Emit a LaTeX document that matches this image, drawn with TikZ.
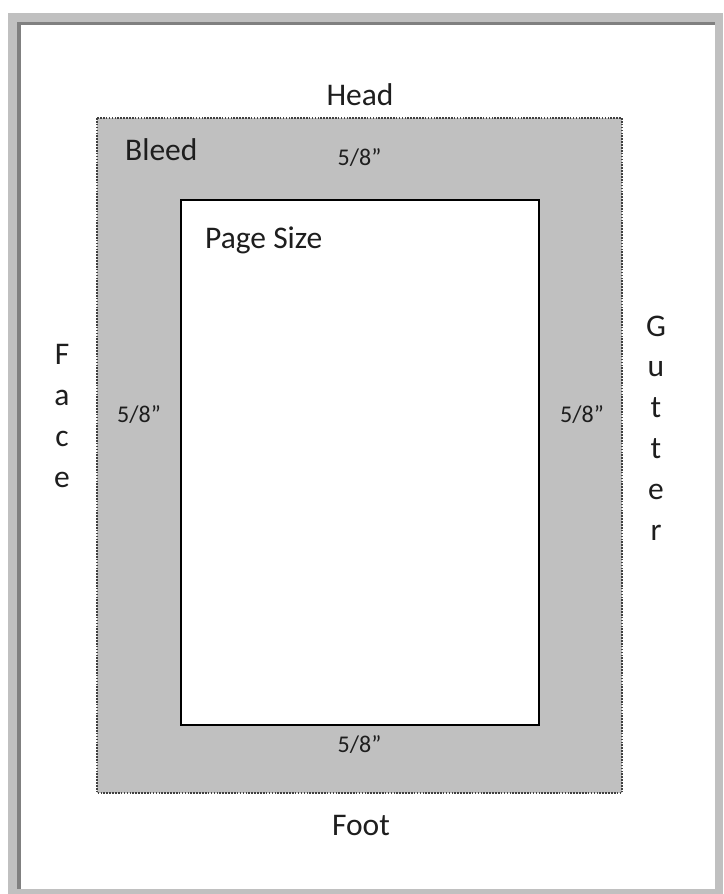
\documentclass[tikz,border=0pt]{standalone}
\usepackage{fontspec}
\setmainfont{Carlito}
\definecolor{framelight}{HTML}{C0C0C0}
\definecolor{framedark}{HTML}{808080}
\definecolor{bleedgray}{HTML}{C0C0C0}
\definecolor{dotgray}{HTML}{404040}
\definecolor{txt}{HTML}{1E1E1E}
\begin{document}
\begin{tikzpicture}[x=1pt,y=-1pt,
  lbl/.style={inner sep=0pt,anchor=base,text=txt,font=\fontsize{31.5}{38}\selectfont},
  dim/.style={inner sep=0pt,anchor=base,text=txt,font=\fontsize{24}{29}\selectfont},
  vlbl/.style={inner sep=0pt,anchor=base,text=txt,align=center,font=\fontsize{31.5}{40.8}\selectfont},
]
\useasboundingbox (0,0) rectangle (723,894);
\fill[white] (0,0) rectangle (723,894);
% outer frame
\fill[framelight] (8,13) rectangle (723,894);
\fill[framedark] (17,22) rectangle (715,889);
\fill[white] (21,25) rectangle (715,889);
% bleed area
\path[fill=bleedgray,draw=dotgray,line width=1.6pt,dash pattern=on 1.6pt off 1.3pt]
  (97,118) rectangle (622,793);
% page size
\path[fill=white,draw=black,line width=1.6pt] (181,200) rectangle (539,725);
% labels
\node[lbl] (head) at (360,105) {Head};
\node[lbl] (foot) at (361,835) {Foot};
\node[lbl,anchor=base west] (bleed) at (125,160) {Bleed};
\node[lbl,anchor=base west] (page) at (205,248) {Page Size};
\node[dim] (dtop) at (359.5,165) {5/8”};
\node[dim] (dbot) at (359.5,752) {5/8”};
\node[dim] (dleft) at (139,422) {5/8”};
\node[dim] (dright) at (582,422) {5/8”};
% vertical labels: base anchor is the last line's baseline
\node[vlbl] (face) at (62,487) {F\\a\\c\\e};
\node[vlbl] (gutter) at (656,540) {G\\u\\t\\t\\e\\r};
\end{tikzpicture}
\end{document}
